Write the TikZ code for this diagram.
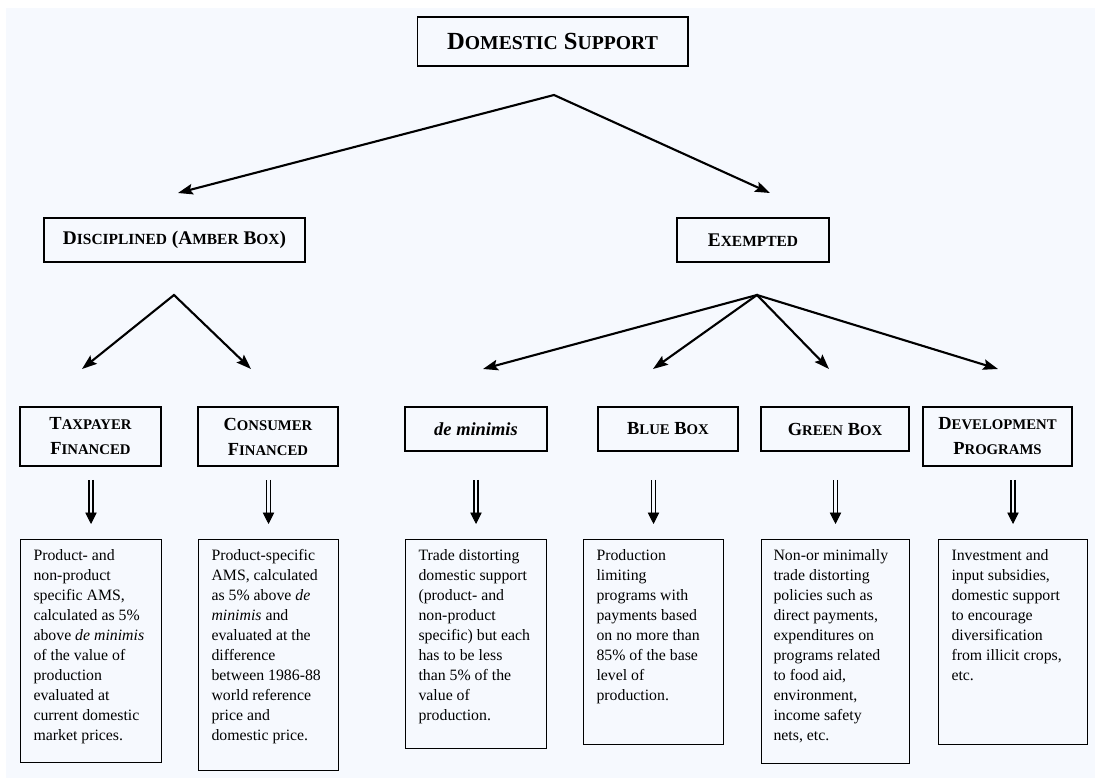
\documentclass[tikz,border=0pt]{standalone}
\usepackage{fontspec}
\setmainfont{Liberation Serif}
\usepackage{xcolor}
\usetikzlibrary{arrows.meta}
\definecolor{base}{HTML}{F6F9FE}
\newcommand{\desctext}[3]{\parbox[t][#2][t]{#1}{\raggedright #3}}
\makeatletter
\newcommand{\scs}[1]{{\fontsize{\strip@pt\dimexpr\f@size pt*4/5\relax}{\f@baselineskip}\selectfont #1}}
\makeatother

\begin{document}
\begin{tikzpicture}[x=0.02cm, y=-0.02cm,
    box/.style={draw, line width=0.6pt, align=center, inner sep=0pt},
    lvlone/.style={box, font=\bfseries\fontsize{14}{16}\selectfont},
    lvltwo/.style={box, font=\bfseries\fontsize{11}{14}\selectfont},
    lvlthree/.style={box, font=\bfseries\fontsize{10.5}{14.2}\selectfont},
    desc/.style={draw, line width=0.6pt, anchor=north west, inner xsep=0.26cm, inner ysep=0.2cm, font=\fontsize{9}{11.4}\selectfont},
    fork/.style={{Stealth[length=8.5pt,width=6pt,inset=1.5pt]}-{Stealth[length=8.5pt,width=6pt,inset=1.5pt]}, line width=1.2pt},
    dbl/.style={double=base, double distance=1.5pt, line width=0.8pt, shorten >=0.2cm},
    dblhead/.style={-{Triangle[length=6.5pt,width=6.5pt]}, line width=0.4pt}]
      % Canvas
      \useasboundingbox (0,0) rectangle (1096,780);
      \fill[base] (6,8) rectangle (1095,778);

      % Top box
      \node[lvlone, minimum width=5.42cm, minimum height=0.98cm] (dom) at (552.5,41.5) {D\scs{OMESTIC} S\scs{UPPORT}};

      % Second level
      \node[lvltwo, minimum width=5.22cm, minimum height=0.88cm] (amber) at (174.5,240) {D\scs{ISCIPLINED} (A\scs{MBER} B\scs{OX})};
      \node[lvltwo, minimum width=3.04cm, minimum height=0.88cm] (exempt) at (753,240) {E\scs{XEMPTED}};

      % Third level
      \node[lvlthree, minimum width=2.82cm, minimum height=1.18cm] (tax) at (90.5,436.5) {T\scs{AXPAYER}\\F\scs{INANCED}};
      \node[lvlthree, minimum width=2.80cm, minimum height=1.18cm] (con) at (268,436.5) {C\scs{ONSUMER}\\F\scs{INANCED}};
      \node[lvlthree, minimum width=2.84cm, minimum height=0.88cm] (dem) at (476,429) {\textit{de minimis}};
      \node[lvlthree, minimum width=2.80cm, minimum height=0.88cm] (blu) at (668,429) {B\scs{LUE} B\scs{OX}};
      \node[lvlthree, minimum width=2.96cm, minimum height=0.88cm] (gre) at (835,429) {G\scs{REEN} B\scs{OX}};
      \node[lvlthree, minimum width=2.98cm, minimum height=1.18cm] (dev) at (997.5,436.5) {D\scs{EVELOPMENT}\\P\scs{ROGRAMS}};

      % Descriptions
      \node[desc] (taxd) at (20,539) {\desctext{2.30cm}{4.06cm}{Product- and\\ non-product\\ specific AMS,\\ calculated as 5\%\\ above \textit{de minimis}\\ of the value of\\ production\\ evaluated at\\ current domestic\\ market prices.}};
      \node[desc] (cond) at (198,539) {\desctext{2.28cm}{4.22cm}{Product-specific\\ AMS, calculated\\ as 5\% above \textit{de}\\ \textit{minimis} and\\ evaluated at the\\ difference\\ between 1986-88\\ world reference\\ price and\\ domestic price.}};
      \node[desc] (demd) at (405,539) {\desctext{2.30cm}{3.78cm}{Trade distorting\\ domestic support\\ (product- and\\ non-product\\ specific) but each\\ has to be less\\ than 5\% of the\\ value of\\ production.}};
      \node[desc] (blud) at (583,539) {\desctext{2.28cm}{3.70cm}{Production\\ limiting\\ programs with\\ payments based\\ on no more than\\ 85\% of the base\\ level of\\ production.}};
      \node[desc, inner xsep=0.24cm] (gred) at (761,539) {\desctext{2.48cm}{4.08cm}{Non-or minimally\\ trade distorting\\ policies such as\\ direct payments,\\ expenditures on\\ programs related\\ to food aid,\\ environment,\\ income safety\\ nets, etc.}};
      \node[desc] (devd) at (938,539) {\desctext{2.46cm}{3.70cm}{Investment and\\ input subsidies,\\ domestic support\\ to encourage\\ diversification\\ from illicit crops,\\ etc.}};

      % Fork points and arrow ends
      \coordinate (domfork) at (554,95);
      \coordinate (amberin) at (178,193);
      \coordinate (exemptin) at (770,193);
      \coordinate (amberfork) at (174,295);
      \coordinate (taxin) at (82,369);
      \coordinate (conin) at (251,369);
      \coordinate (exemptfork) at (757,295);
      \coordinate (demin) at (483,369);
      \coordinate (bluin) at (653,369);
      \coordinate (grein) at (829,369);
      \coordinate (devin) at (998,369);
      \coordinate (dblrow) at (0,480);

      % Draw forks
      \draw[fork] (amberin) -- (domfork) -- (exemptin);
      \draw[fork] (taxin) -- (amberfork) -- (conin);
      \draw[fork] (demin) -- (exemptfork) -- (devin);
      \draw[fork] (bluin) -- (exemptfork) -- (grein);

      % Draw double arrows
      \foreach \b in {taxd, cond, demd, blud, gred, devd} {
        \draw[dbl] (\b.north |- dblrow) -- ([yshift=0.3cm]\b.north);
        \draw[dblhead] ([yshift=0.52cm]\b.north) -- ([yshift=0.3cm]\b.north);
      }
\end{tikzpicture}
\end{document}
